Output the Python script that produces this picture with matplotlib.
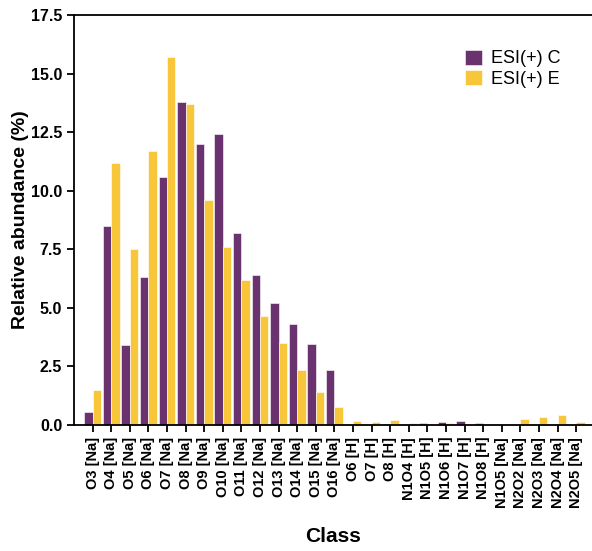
import numpy as np
import matplotlib
matplotlib.use("Agg")
import matplotlib.pyplot as plt

plt.rcParams['font.family'] = ['Liberation Sans', 'DejaVu Sans']

# classes and relative abundances (%) for the two samples
classes = ['O3 [Na]', 'O4 [Na]', 'O5 [Na]', 'O6 [Na]', 'O7 [Na]', 'O8 [Na]', 'O9 [Na]',
           'O10 [Na]', 'O11 [Na]', 'O12 [Na]', 'O13 [Na]', 'O14 [Na]', 'O15 [Na]', 'O16 [Na]',
           'O6 [H]', 'O7 [H]', 'O8 [H]',
           'N1O4 [H]', 'N1O5 [H]', 'N1O6 [H]', 'N1O7 [H]', 'N1O8 [H]',
           'N1O5 [Na]', 'N2O2 [Na]', 'N2O3 [Na]', 'N2O4 [Na]', 'N2O5 [Na]']
esi_c = [0.55, 8.5, 3.4, 6.3, 10.6, 13.8, 12.0, 12.4, 8.2, 6.4, 5.2, 4.3, 3.45, 2.35,
         0.0, 0.02, 0.03, 0.02, 0.09, 0.13, 0.16, 0.07, 0.0, 0.0, 0.0, 0.0, 0.0]
esi_e = [1.5, 11.2, 7.5, 11.7, 15.7, 13.7, 9.6, 7.6, 6.2, 4.65, 3.5, 2.35, 1.4, 0.75,
         0.16, 0.11, 0.21, 0.1, 0.03, 0.09, 0.04, 0.02, 0.01, 0.26, 0.36, 0.41, 0.11]

purple = '#6a3370'
yellow = '#f8c63a'

fig = plt.figure(figsize=(5.92, 5.51), dpi=100)
ax = fig.add_axes([74 / 592, 126 / 551, 1 - 74 / 592, 410 / 551])

x = np.arange(len(classes))
w = 0.45
ax.bar(x - w / 2, esi_c, w, color=purple, edgecolor='white', linewidth=0.4, label='ESI(+) C')
ax.bar(x + w / 2, esi_e, w, color=yellow, edgecolor='white', linewidth=0.4, label='ESI(+) E')

ax.set_xlim(-1.0, 26.85)
ax.set_ylim(0, 17.5)
ax.set_yticks(np.arange(0, 17.6, 2.5))
ax.set_yticklabels([f'{v:.1f}' for v in np.arange(0, 17.6, 2.5)], fontsize=11.5, fontweight='bold')
ax.set_xticks(x)
ax.set_xticklabels(classes, rotation=90, fontsize=10.5, fontweight='bold')

ax.spines['right'].set_visible(False)
for s in ['left', 'bottom', 'top']:
    ax.spines[s].set_linewidth(1.3)
ax.tick_params(width=1.3, length=5)

ax.set_ylabel('Relative abundance (%)', fontsize=14, fontweight='bold', labelpad=1)
ax.set_xlabel('Class', fontsize=15, fontweight='bold', labelpad=14)

ax.legend(loc='upper right', bbox_to_anchor=(0.97, 0.955), frameon=False, fontsize=13,
          handlelength=0.9, handleheight=0.9, handletextpad=0.5, labelspacing=0.15)

fig.savefig('out.png', dpi=100)
